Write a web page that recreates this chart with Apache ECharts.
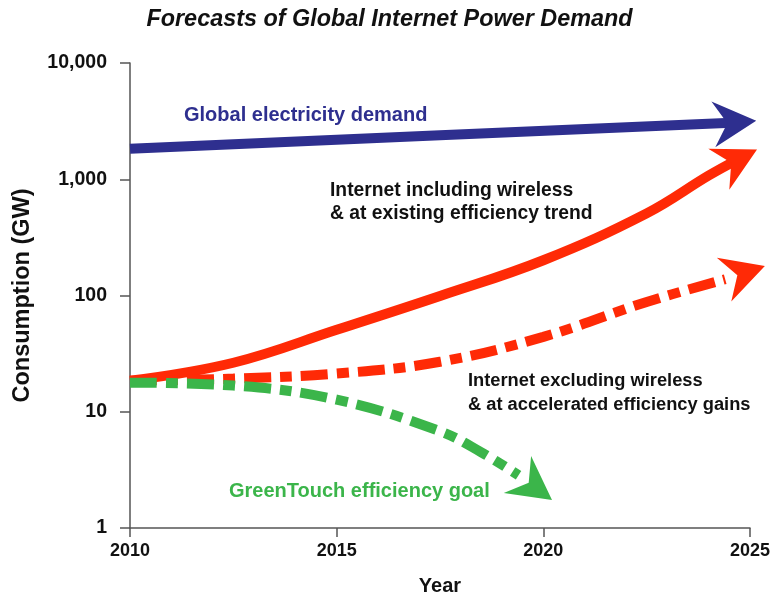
<!DOCTYPE html>
<html>
<head>
<meta charset="utf-8">
<script src="https://cdn.jsdelivr.net/npm/echarts@6/dist/echarts.min.js"></script>
<style>
html,body{margin:0;padding:0;background:#fff;}
#chart{width:779px;height:601px;}
</style>
</head>
<body>
<div id="chart"></div>
<script>
// ---- data ----
const xTicks = [2010, 2015, 2020, 2025];
const yTicks = [1, 10, 100, 1000, 10000];

const blueYears = [2010, 2017.5, 2024.55];
const blueValues = [1830, 2390, 3060];
const blueTip = [2025.15, 3190];

const redSolidYears = [2010, 2012.5, 2015, 2017.5, 2020, 2022.5, 2024, 2024.7];
const redSolidValues = [18.5, 26.4, 50.7, 99, 201, 509, 1077, 1477];
const redSolidTip = [2025.17, 1800];

const redDashYears = [2010, 2012.5, 2015, 2017.5, 2020, 2022.5, 2024.4];
const redDashValues = [18.5, 19.3, 21.3, 26.9, 44.1, 88, 138];
const redDashTip = [2025.36, 179];

const greenYears = [2010, 2012.5, 2015, 2017.5, 2018.5, 2019.4];
const greenValues = [17.8, 16.8, 12.7, 6.8, 4.48, 2.84];
const greenTip = [2020.21, 1.74];

const labels = {
  blue: 'Global electricity demand',
  redSolid: 'Internet including wireless\n& at existing efficiency trend',
  redDash: 'Internet excluding wireless\n& at accelerated efficiency gains',
  green: 'GreenTouch efficiency goal'
};

// ---- styling ----
const FONT = '"Liberation Sans", Arial, Helvetica, sans-serif';
const BLUE = '#2e2f8f';
const RED = '#ff2a06';
const GREEN = '#3bb54a';

function pairs(xs, ys) { return xs.map((x, i) => [x, ys[i]]); }

function lineSeries(xs, ys, color, dashed, z, smooth) {
  return {
    type: 'line', data: pairs(xs, ys), showSymbol: false, symbol: 'none',
    smooth: smooth, z: z, silent: true,
    lineStyle: { color: color, width: 10, type: dashed ? [27, 9, 12, 9] : 'solid', cap: 'butt' }
  };
}

function lastPoint(xs, ys) { return [xs[xs.length - 1], ys[ys.length - 1]]; }

function arrowSeries(base, tip, color, z) {
  return {
    type: 'custom', coordinateSystem: 'cartesian2d', clip: false, z: z, silent: true,
    data: [[base[0], base[1], tip[0], tip[1]]],
    encode: { x: [0, 2], y: [1, 3] },
    renderItem: function (params, api) {
      const p0 = api.coord([api.value(0), api.value(1)]);
      const p1 = api.coord([api.value(2), api.value(3)]);
      const dx = p1[0] - p0[0], dy = p1[1] - p0[1];
      const len = Math.hypot(dx, dy);
      const ux = dx / len, uy = dy / len, nx = -uy, ny = ux;
      const L = 43, W = 23, N = 29;
      const bx = p1[0] - ux * L, by = p1[1] - uy * L;
      const pts = [
        [p1[0], p1[1]],
        [bx + nx * W, by + ny * W],
        [p1[0] - ux * N, p1[1] - uy * N],
        [bx - nx * W, by - ny * W]
      ];
      return { type: 'polygon', shape: { points: pts }, style: { fill: color } };
    }
  };
}

const chart = echarts.init(document.getElementById('chart'), null, { renderer: 'canvas' });
chart.setOption({
  animation: false,
  backgroundColor: '#ffffff',
  title: {
    text: 'Forecasts of Global Internet Power Demand',
    left: 'center', top: 3,
    textStyle: { fontFamily: FONT, fontSize: 23.4, fontWeight: 'bold', fontStyle: 'italic', color: '#111' }
  },
  grid: { left: 130, right: 29, top: 63, bottom: 71, containLabel: false },
  xAxis: {
    type: 'value', min: xTicks[0], max: xTicks[xTicks.length - 1], interval: 5,
    name: 'Year', nameLocation: 'middle', nameGap: 48,
    nameTextStyle: { fontFamily: FONT, fontSize: 20, fontWeight: 'bold', color: '#111' },
    axisLine: { show: true, lineStyle: { color: '#555', width: 1.5 } },
    axisTick: { show: true, length: 9, lineStyle: { color: '#555', width: 1.5 } },
    axisLabel: { margin: 14, fontFamily: FONT, fontSize: 18, fontWeight: 'bold', color: '#111',
      formatter: v => String(v) },
    splitLine: { show: false }
  },
  yAxis: {
    type: 'log', logBase: 10, min: yTicks[0], max: yTicks[yTicks.length - 1],
    name: 'Consumption (GW)', nameLocation: 'middle', nameGap: 95,
    nameTextStyle: { fontFamily: FONT, fontSize: 23.5, fontWeight: 'bold', color: '#111' },
    axisLine: { show: true, lineStyle: { color: '#555', width: 1.5 } },
    axisTick: { show: true, length: 10, lineStyle: { color: '#555', width: 1.5 } },
    axisLabel: { margin: 23, fontFamily: FONT, fontSize: 19.5, fontWeight: 'bold', color: '#111',
      formatter: v => Number(v).toLocaleString('en-US') },
    splitLine: { show: false }
  },
  series: [
    lineSeries(blueYears, blueValues, BLUE, false, 2, false),
    arrowSeries(lastPoint(blueYears, blueValues), blueTip, BLUE, 3),
    lineSeries(redSolidYears, redSolidValues, RED, false, 2, 0.4),
    arrowSeries(lastPoint(redSolidYears, redSolidValues), redSolidTip, RED, 3),
    lineSeries(redDashYears, redDashValues, RED, true, 3, 0.4),
    arrowSeries(lastPoint(redDashYears, redDashValues), redDashTip, RED, 3),
    lineSeries(greenYears, greenValues, GREEN, true, 4, 0.4),
    arrowSeries(lastPoint(greenYears, greenValues), greenTip, GREEN, 4)
  ],
  graphic: [
    { type: 'text', left: 184, top: 105, z: 10,
      style: { text: labels.blue, fill: BLUE, font: 'bold 20px ' + FONT } },
    { type: 'text', left: 330, top: 179, z: 10,
      style: { text: labels.redSolid, fill: '#111', font: 'bold 19.3px ' + FONT, lineHeight: 23 } },
    { type: 'text', left: 468, top: 369, z: 10,
      style: { text: labels.redDash, fill: '#111', font: 'bold 18.3px ' + FONT, lineHeight: 24 } },
    { type: 'text', left: 229, top: 481, z: 10,
      style: { text: labels.green, fill: GREEN, font: 'bold 20px ' + FONT } }
  ]
});
</script>
</body>
</html>
